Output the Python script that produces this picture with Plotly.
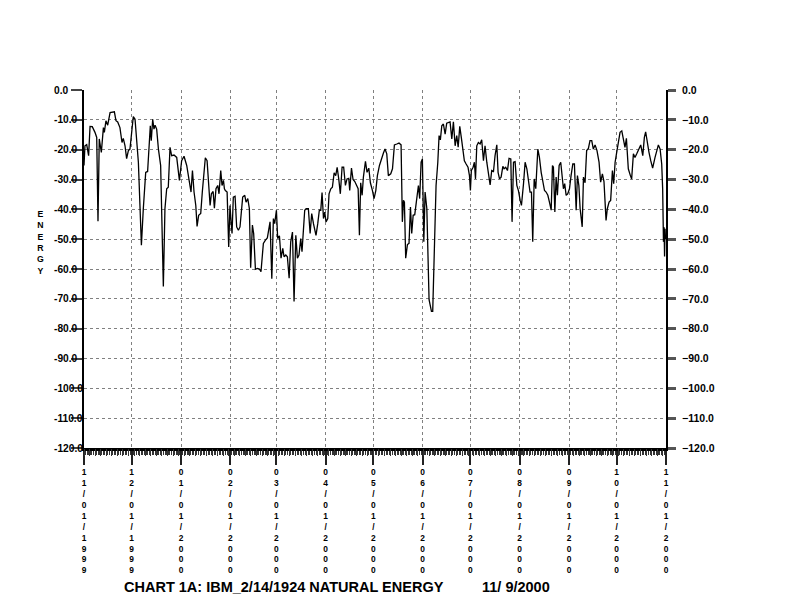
import pandas as pd
import plotly.graph_objects as go

# ---------------- data ----------------
start_date = "11/01/1999"
month_labels = ["11/01/1999", "12/01/1999", "01/01/2000", "02/01/2000", "03/01/2000",
                "04/01/2000", "05/01/2000", "06/01/2000", "07/01/2000", "08/01/2000",
                "09/01/2000", "10/01/2000", "11/01/2000"]

# day offsets since 11/01/1999
days = [0, 0.6, 1.7, 2.9, 3.8, 5.2, 6.9, 8.0, 8.8, 9.6, 10.9, 12.2, 12.8, 13.8, 14.9, 16.4, 19.1,
        20.1, 21.2, 22.6, 23.9, 24.7, 25.8, 26.8, 27.9, 28.9, 31.0, 32.1, 34.2, 36.1, 37.3, 38.8,
        40.0, 41.1, 41.7, 42.3, 43.2, 44.0, 44.7, 45.7, 46.8, 48.2, 49.9, 50.9, 52.0, 53.0, 54.1,
        55.1, 56.6, 58.3, 60.0,
        61.4, 62.9, 64.6, 66.3, 67.3, 68.2, 69.2, 70.3, 71.1, 72.1, 73.4, 74.4, 75.5, 76.3, 77.4,
        78.4, 79.3, 80.1, 81.2, 82.0, 83.0, 84.1, 84.9, 86.0, 86.8, 87.7, 88.3, 88.9, 90.0, 91.0,
        91.8, 92.5, 93.1, 93.9, 95.0, 96.0, 97.1, 98.1, 99.8, 101.1, 101.9, 103.0, 104.0, 104.8,
        105.9, 106.7, 107.8, 109.0, 110.3, 111.3, 112.8, 114.1, 115.3, 117.0, 118.1, 119.1, 119.9,
        121.0, 121.8, 122.9,
        123.9, 125.0, 125.8, 126.9, 127.9, 129.0, 130.0, 131.1, 132.1, 133.2, 134.2, 135.2, 136.3,
        137.1, 138.0, 138.8, 139.7, 141.1, 142.2, 143.2, 144.3, 145.9, 147.0, 148.0, 148.9, 149.7,
        150.6, 151.4, 152.2, 153.3, 154.1, 155.2, 156.2, 157.3, 158.3, 159.2, 160.2, 161.2, 162.3,
        163.3, 164.4, 165.4, 166.5, 167.1, 168.2, 169.2, 170.3, 171.5, 172.4, 173.2, 174.0, 174.9,
        175.7, 177.0, 178.0, 179.1, 180.1, 181.4, 182.4, 183.5, 184.5, 185.8, 187.0,
        188.3, 189.3, 190.4, 191.4, 192.9, 194.0, 195.2, 196.7, 198.1, 199.4, 200.2, 200.9, 201.5,
        202.3, 203.4, 204.4, 205.3, 206.1, 207.0, 208.0, 209.3, 210.3, 211.1, 212.0, 212.8, 213.7,
        214.5, 215.6, 217.0, 218.5, 219.3, 220.4, 221.4, 222.5, 223.3, 224.1, 225.0, 226.0, 227.1,
        228.1, 229.2, 230.2, 231.3, 232.3, 233.4, 234.4, 235.3, 236.3, 237.4, 238.4, 239.2, 240.3,
        241.5, 242.4, 243.0, 243.6, 244.7, 245.5, 246.2, 247.0, 248.0, 249.1, 250.1, 251.2, 252.2,
        253.3, 254.3, 255.4, 256.4, 257.5, 258.5, 259.6, 260.4, 261.3, 262.3, 263.4, 264.2, 265.2,
        266.3, 267.3, 268.4, 269.2, 270.1, 271.1, 272.2, 273.2, 274.3, 275.1, 276.4, 277.4, 278.5,
        279.5, 280.5, 281.4, 282.2, 283.1, 284.1, 285.4, 286.4, 287.5, 288.5, 289.6, 290.6, 291.7,
        292.7, 293.8, 294.6, 295.2, 296.1, 296.9, 297.7, 298.8, 299.8, 300.7, 301.5, 302.3, 303.2,
        304.2, 305.3, 306.3, 307.4, 308.4, 309.5, 310.3, 311.2, 312.0, 313.3, 314.1, 315.1,
        316.1, 317.2, 318.2, 319.3, 320.3, 321.4, 322.6, 323.9, 324.9, 326.0, 327.0, 328.3, 329.1,
        330.2, 331.2, 332.3, 333.1, 334.0, 335.0, 336.1, 337.1, 338.2, 339.2, 340.2, 341.1, 342.3,
        343.6, 344.4, 345.5, 346.5, 347.6, 348.6, 350.1, 351.4, 352.4, 353.2, 354.3, 355.3, 356.4,
        357.6, 359.1, 360.2, 361.2, 362.3, 363.3, 363.9, 364.4, 364.8, 365.1, 365.4, 365.7]

energy = [-25.3, -18.7, -18.3, -22, -12.2, -12.3, -14.2, -15.9, -44, -16.4, -20.9, -12.6, -14.2,
          -10.3, -11.8, -7.6, -7.3, -10.3, -10.7, -12.6, -17.6, -16.2, -18.7, -23, -20.3, -19.8,
          -8.9, -9.8, -24.2, -52, -39.8, -27.6, -27.3, -15.9, -12, -17, -9.8, -13.1, -11.8, -13.1,
          -19.8, -25.3, -65.9, -39.8, -33.1, -32.6, -19.2, -22, -21.8, -22.6, -30.3,
          -23.7, -22.2, -25.3, -32, -34.2, -27, -34.2, -38.7, -45.7, -42, -41.4, -34.2, -26.4,
          -22.7, -23.7, -30.9, -38.7, -34.8, -34, -39.6, -33.1, -32, -34.8, -27, -32, -30.3,
          -33.1, -33.7, -34.2, -52.6, -38.7, -44.2, -48.1, -35.9, -35.6, -45.9, -47, -45.9,
          -35.9, -35.3, -37.6, -36.4, -39.8, -59.6, -45.3, -48.1, -60.1, -59.8, -60, -60.9,
          -51.4, -50.3, -49.6, -44.2, -63.3, -43.1, -44.8, -40.3, -49.8, -48.9,
          -56.4, -53.1, -55.9, -55.3, -55.9, -63.1, -50.9, -47.6, -70.9, -48.7, -56.4, -55.3,
          -49.8, -54.2, -47, -40.3, -39.8, -39.8, -48.1, -41.4, -44.8, -48.7, -44.8, -40.3,
          -40.3, -34.4, -43.1, -40.9, -44.2, -43.1, -34.8, -33.1, -32.6, -27.8, -28.7, -25.9,
          -29.8, -34.8, -25.9, -25.9, -32, -29.8, -29.6, -33.7, -26.2, -30, -30.7, -32, -33.1,
          -48.7, -31.1, -35.3, -29.2, -23.9, -27.6, -26.2, -31.1, -33.7, -36.4, -33.7, -28.7,
          -25.3, -23.1,
          -21.1, -19.8, -21.4, -28.7, -28.1, -26.4, -18.4, -18.1, -17.8, -18.4, -44.2, -37,
          -37.6, -56.4, -51.8, -51.4, -39.2, -48.1, -42, -41.8, -35.3, -32, -36.4, -24.2, -23.1,
          -50.9, -34.2, -39.8, -70.3, -74.2, -74.2, -52, -32, -24.2, -15.3, -16.7, -12, -11.4,
          -14.8, -11.1, -10.9, -10.7, -16.4, -10.7, -18.7, -15.3, -19.2, -12.2, -16.4, -20.3,
          -23.7, -24.8, -25.9, -28.7, -33.7, -27, -25.9, -24.2, -29.8, -18.7, -17.6, -18.1,
          -16.7, -23.7, -18.7,
          -24.2, -27.6, -31.8, -27, -27.3, -22, -18.4, -27.6, -29.8, -29.2, -25.6, -26.4, -25.9,
          -27, -22.9, -23.1, -44.2, -24.2, -24, -32, -33.7, -37, -38.7, -31.4, -24.2, -26.4,
          -29.8, -34.2, -34.2, -50.9, -29.8, -33.1, -19.8, -22.6, -27.6, -30.9, -33.7, -34.2,
          -35.3, -37.6, -40.3, -25.3, -25.9, -40.9, -29.2, -35.3, -25.3, -24.2, -29.8, -33.1,
          -31.4, -35.3, -34.8, -33.1, -28.7, -24.8, -24.8, -40.3, -28.7, -32, -39.8, -45.9,
          -29.2, -31.1,
          -20.3, -19.6, -17, -17, -19.8, -18.4, -20.3, -24.2, -30.9, -28.1, -30.7, -43.7, -39.8,
          -37.6, -37, -27, -31.4, -24.2, -20.9, -17.6, -14.2, -13.7, -16.4, -19.2, -16.2, -26.4,
          -28.7, -29.8, -21.4, -22.6, -21.4, -20, -18.4, -22, -15.9, -14, -18.1, -20.9, -23.7,
          -26.2, -22.6, -20.3, -18.4, -19.8, -24.8, -33.1, -50.9, -46, -55.8, -46.5, -50]

y_ticks = [0, -10, -20, -30, -40, -50, -60, -70, -80, -90, -100, -110, -120]
title_left = "CHART 1A: IBM_2/14/1924 NATURAL ENERGY"
title_right = "11/ 9/2000"
y_title = "ENERGY"

# ---------------- derived ----------------
n = min(len(days), len(energy))
days = days[:n]
energy = energy[:n]
t0 = pd.to_datetime(start_date, format="%m/%d/%Y")
tick_pos = [(pd.to_datetime(s, format="%m/%d/%Y") - t0).days for s in month_labels]
tick_txt = ["<br>".join(list(s)) for s in month_labels]
x_end = tick_pos[-1]

FONT = "Liberation Sans, Arial, Helvetica, sans-serif"
OFF = 8  # page body margin
W, H = 800 - OFF, 616 - OFF
L, T = 84 - OFF, 90 - OFF
pw, ph = 582, 358
R = W - L - pw
B = H - T - ph


def px_x(page_x):
    return (page_x - OFF - L) / pw


def px_y(page_y):
    return (T + ph - (page_y - OFF)) / ph


fig = go.Figure()
fig.add_trace(go.Scatter(x=days, y=energy, mode="lines",
                         line=dict(color="black", width=1.3),
                         showlegend=False, hoverinfo="x+y"))
# helper trace to activate overlay axes
fig.add_trace(go.Scatter(x=[days[0]], y=[energy[0]], xaxis="x2", yaxis="y2",
                         mode="none", showlegend=False, hoverinfo="skip"))

fig.update_layout(
    width=W, height=H,
    margin=dict(l=L, r=R, t=T, b=B, autoexpand=False),
    paper_bgcolor="white", plot_bgcolor="white",
    font=dict(family=FONT, color="black"),
    xaxis=dict(range=[0, x_end], tickmode="array", tickvals=tick_pos, ticktext=tick_txt,
               ticks="outside", ticklen=14, tickwidth=2, tickcolor="#222",
               showline=True, linecolor="black", linewidth=3,
               showgrid=True, gridcolor="#808080", griddash="dot", gridwidth=1,
               zeroline=False, tickangle=0, automargin=False,
               tickfont=dict(family=FONT, size=8.4, color="black", weight="bold"),
               minor=dict(tickmode="linear", tick0=0, dtick=1, ticklen=4, tickwidth=1,
                          tickcolor="#333", showgrid=False)),
    xaxis2=dict(range=[0, x_end], overlaying="x", anchor="y", side="bottom",
                tickmode="linear", tick0=0, dtick=3.5, ticks="outside", ticklen=7,
                tickwidth=1, tickcolor="#333", showticklabels=False, showgrid=False,
                showline=False, zeroline=False),
    yaxis=dict(range=[-120, 0], tickmode="array", tickvals=y_ticks,
               ticks="outside", ticklen=11, tickwidth=2, tickcolor="#444",
               showline=True, linecolor="black", linewidth=2,
               showgrid=True, gridcolor="#808080", griddash="dot", gridwidth=1,
               zeroline=False, showticklabels=False, automargin=False),
    yaxis2=dict(range=[-120, 0], overlaying="y", anchor="x", side="right",
                tickmode="array", tickvals=y_ticks, tickformat=".1f",
                ticks="outside", ticklen=8, tickwidth=2.5, tickcolor="#555",
                showline=True, linecolor="black", linewidth=2,
                showgrid=False, zeroline=False, ticklabelstandoff=4, automargin=False,
                tickfont=dict(family=FONT, size=10.5, color="black", weight="bold")),
)

# left-aligned left tick labels
for v in y_ticks:
    fig.add_annotation(x=px_x(52), xref="paper", y=v, yref="y",
                       text=f"{v:.1f}", showarrow=False, xanchor="left", yanchor="middle",
                       font=dict(family=FONT, size=10.2, color="black", weight="bold"))

# vertical stacked axis title
fig.add_annotation(x=px_x(40.5), xref="paper", y=px_y(242.5), yref="paper",
                   text="<br>".join(list(y_title)), showarrow=False,
                   xanchor="center", yanchor="middle",
                   font=dict(family=FONT, size=8.7, color="black", weight="bold"))

# bottom title
fig.add_annotation(x=px_x(121.5), xref="paper", y=px_y(587), yref="paper",
                   text=title_left, showarrow=False, xanchor="left", yanchor="middle",
                   font=dict(family=FONT, size=14.5, color="black", weight="bold"))
fig.add_annotation(x=px_x(480), xref="paper", y=px_y(587), yref="paper",
                   text=title_right, showarrow=False, xanchor="left", yanchor="middle",
                   font=dict(family=FONT, size=14.5, color="black", weight="bold"))

fig.write_html("out.html")
